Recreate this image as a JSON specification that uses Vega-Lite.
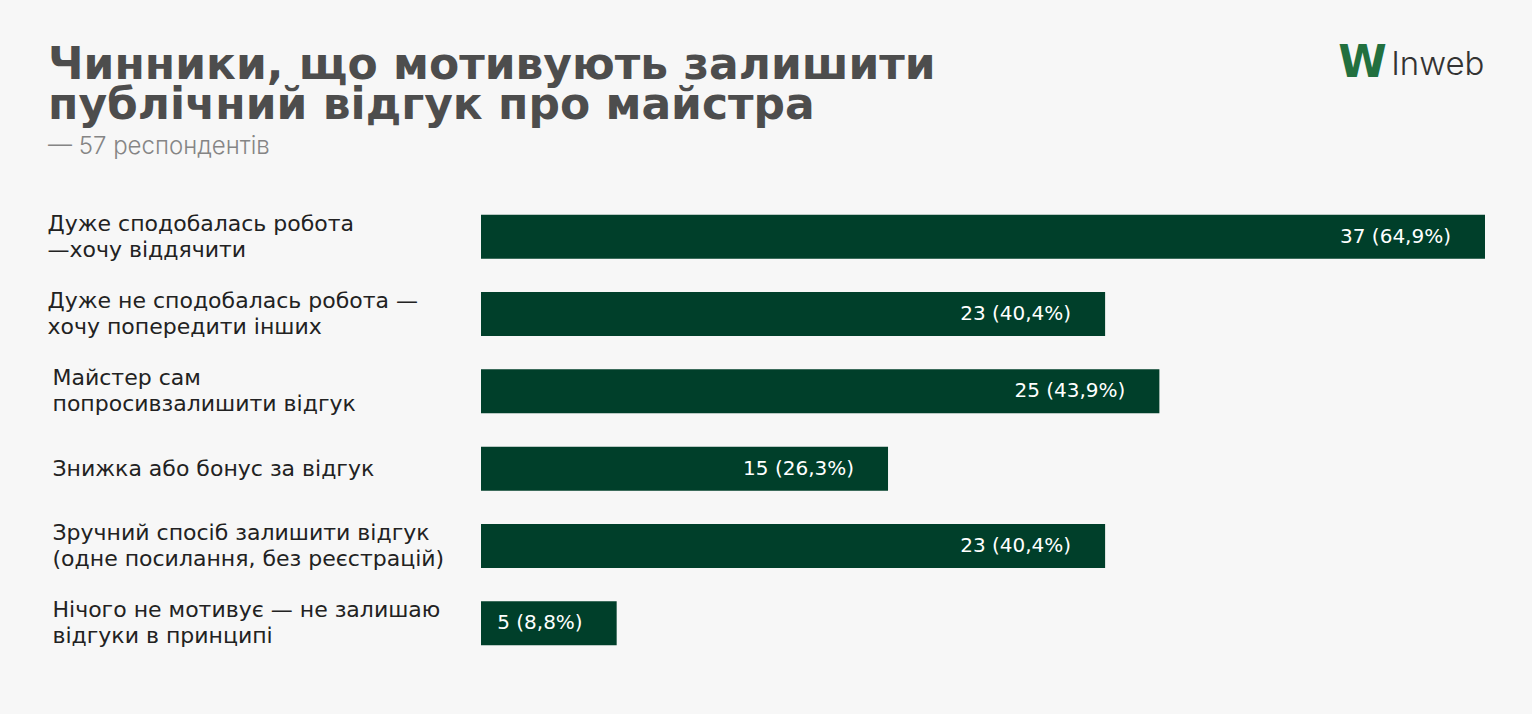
{
  "$schema": "https://vega.github.io/schema/vega-lite/v6.json",
  "width": 1004,
  "height": 464,
  "autosize": {"type": "none"},
  "padding": {"left": 481, "top": 198, "right": 47, "bottom": 52},
  "background": "#f7f7f7",
  "title": {
    "text": ["Чинники, що мотивують залишити", "публічний відгук про майстра"],
    "subtitle": "— 57 респондентів",
    "anchor": "start",
    "frame": "group",
    "dx": -433,
    "dy": 122,
    "font": "DejaVu Sans",
    "fontSize": 44,
    "fontWeight": "bold",
    "color": "#4d4d4d",
    "lineHeight": 40,
    "subtitleFont": "Inter",
    "subtitleFontSize": 24,
    "subtitleFontWeight": 300,
    "subtitleColor": "#858585",
    "subtitlePadding": 7
  },
  "data": {
    "values": [
      {"category": "Дуже сподобалась робота\n—хочу віддячити", "value": 37, "label": "37 (64,9%)"},
      {"category": "Дуже не сподобалась робота —\nхочу попередити інших", "value": 23, "label": "23 (40,4%)"},
      {"category": "Майстер сам\nпопросивзалишити відгук", "value": 25, "label": "25 (43,9%)"},
      {"category": "Знижка або бонус за відгук", "value": 15, "label": "15 (26,3%)"},
      {"category": "Зручний спосіб залишити відгук\n(одне посилання, без реєстрацій)", "value": 23, "label": "23 (40,4%)"},
      {"category": "Нічого не мотивує — не залишаю\nвідгуки в принципі", "value": 5, "label": "5 (8,8%)"}
    ]
  },
  "encoding": {
    "y": {
      "field": "category",
      "type": "nominal",
      "sort": null,
      "scale": {"paddingInner": 0.43, "paddingOuter": 0.215},
      "axis": {
        "orient": "left",
        "domain": false,
        "ticks": false,
        "tickSize": 0,
        "grid": false,
        "labelAlign": "left",
        "labelBaseline": "middle",
        "labelPadding": {"condition": {"test": "indexof(datum.value, 'Дуже') === 0", "value": 434}, "value": 429},
        "labelOffset": {"condition": {"test": "indexof(datum.value, '\\n') >= 0", "value": -13}, "value": 0},
        "labelFont": "DejaVu Sans",
        "labelFontSize": 22,
        "labelColor": "#222222",
        "labelLineHeight": 26,
        "labelLimit": 0,
        "labelExpr": "split(datum.label, '\\n')",
        "title": "W",
        "titleAngle": 0,
        "titleX": 881,
        "titleY": -122,
        "titleAlign": "center",
        "titleBaseline": "alphabetic",
        "titleFont": "DejaVu Sans",
        "titleFontWeight": "bold",
        "titleFontSize": 44,
        "titleColor": "#22703f"
      }
    },
    "x": {
      "field": "value",
      "type": "quantitative",
      "scale": {"domain": [0, 37], "nice": false},
      "axis": {
        "orient": "top",
        "domain": false,
        "ticks": false,
        "labels": false,
        "grid": false,
        "title": "Inweb",
        "titleX": 1003,
        "titleY": -124,
        "titleAlign": "right",
        "titleBaseline": "alphabetic",
        "titleFont": "Inter",
        "titleFontSize": 33,
        "titleFontWeight": 300,
        "titleColor": "#333333"
      }
    }
  },
  "layer": [
    {"mark": {"type": "bar", "color": "#003f2a"}},
    {
      "mark": {"type": "text", "align": "right", "baseline": "middle", "dx": -34, "color": "#ffffff", "font": "DejaVu Sans", "fontSize": 20},
      "encoding": {"text": {"field": "label"}}
    }
  ],
  "config": {"view": {"stroke": null}}
}
